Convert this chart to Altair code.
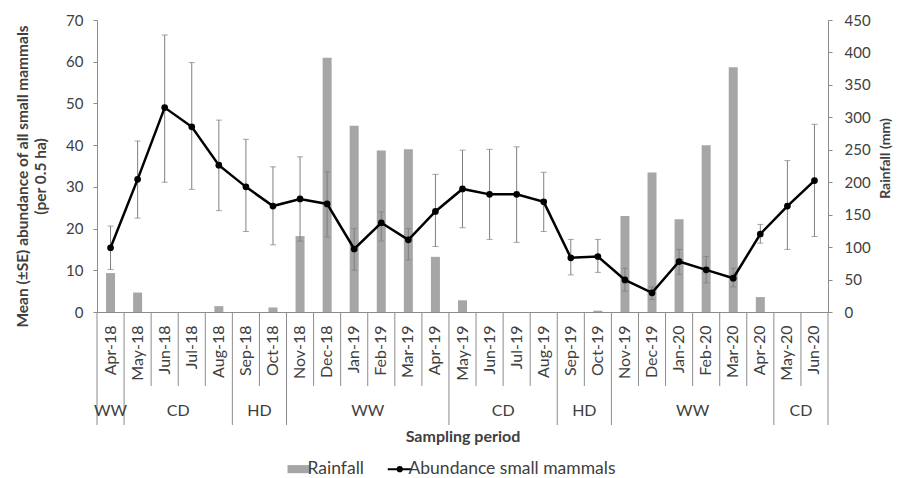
import altair as alt
import pandas as pd

months = ["Apr-18", "May-18", "Jun-18", "Jul-18", "Aug-18", "Sep-18", "Oct-18",
          "Nov-18", "Dec-18", "Jan-19", "Feb-19", "Mar-19", "Apr-19", "May-19",
          "Jun-19", "Jul-19", "Aug-19", "Sep-19", "Oct-19", "Nov-19", "Dec-19",
          "Jan-20", "Feb-20", "Mar-20", "Apr-20", "May-20", "Jun-20"]
seasons = ["WW", "CD", "CD", "CD", "CD", "HD", "HD", "WW", "WW", "WW", "WW", "WW",
           "WW", "CD", "CD", "CD", "CD", "HD", "HD", "WW", "WW", "WW", "WW", "WW",
           "WW", "CD", "CD"]
abundance = [15.4, 31.8, 49.0, 44.4, 35.2, 30.0, 25.4, 27.1, 25.9, 15.1, 21.4, 17.3,
             24.1, 29.5, 28.2, 28.2, 26.4, 13.0, 13.3, 7.7, 4.6, 12.1, 10.1, 8.1,
             18.7, 25.4, 31.5]
se_high = [20.6, 41.0, 66.4, 59.8, 46.0, 41.4, 34.8, 37.2, 33.6, 20.0, 24.0, 20.0,
           33.0, 38.8, 39.0, 39.6, 33.5, 17.4, 17.4, 10.5, 6.0, 15.0, 13.3, 10.5,
           21.0, 36.3, 45.0]
se_low = [10.2, 22.5, 31.1, 29.4, 24.3, 19.3, 16.1, 17.0, 18.0, 10.0, 17.0, 12.5,
          15.7, 20.2, 17.4, 16.7, 19.3, 8.9, 9.5, 5.0, 3.0, 9.0, 7.0, 6.0,
          16.5, 15.0, 18.1]
rainfall = [60, 30, 0, 0, 9, 0, 7, 117, 392, 287, 249, 251, 85, 18, 0, 0, 0, 0, 2,
            148, 215, 143, 257, 377, 23, 0, 0]

season_start = [i == 0 or seasons[i] != seasons[i - 1] for i in range(len(months))]

df = pd.DataFrame({
    "month": months, "season": seasons, "abundance": abundance,
    "hi": se_high, "lo": se_low, "rain": rainfall, "season_start": season_start,
})
df["rain_series"] = "Rainfall"
df["ab_series"] = "Abundance small mammals"

# season label table (centre of each season run)
runs = []
i = 0
while i < len(months):
    j = i
    while j + 1 < len(months) and seasons[j + 1] == seasons[i]:
        j += 1
    n = j - i + 1
    runs.append({"season": seasons[i], "month": months[i + n // 2], "odd": n % 2 == 1})
    i = j + 1
runs_df = pd.DataFrame(runs)

GREY_TXT = "#404040"
AX = "#8c8c8c"
FONT = "Lato"

x_axis = alt.Axis(title="Sampling period", labelAngle=270, labelPadding=13, ticks=False,
                  domainColor=AX, labelFontSize=16, labelColor=GREY_TXT,
                  titleFontSize=16, titleFontWeight="bold", titleColor=GREY_TXT,
                  titleY=116)
xs = alt.Scale(paddingInner=0, paddingOuter=0)


def X(band=0.5):
    return alt.X("month:N", sort=months, scale=xs, axis=x_axis, bandPosition=band)


color_scale = alt.Scale(domain=["Rainfall", "Abundance small mammals"],
                        range=["#a6a6a6", "#000000"])
rect_path = "M-0.75,-0.27H0.75V0.27H-0.75Z"
line_path = "M-0.8,0H0.8M-0.14,0A0.14,0.14,0,1,1,0.14,0A0.14,0.14,0,1,1,-0.14,0Z"
legend = alt.Legend(
    title=None, orient="none", legendX=193, legendY=440, direction="horizontal",
    symbolSize=900, labelFontSize=17.5, labelColor=GREY_TXT, labelOffset=0,
    labelLimit=0, columnPadding=19,
    symbolType=alt.ExprRef(f"datum.value === 'Rainfall' ? '{rect_path}' : '{line_path}'"),
    symbolFillColor=alt.ExprRef("datum.value === 'Rainfall' ? '#a6a6a6' : '#000000'"),
    symbolStrokeColor=alt.ExprRef("datum.value === 'Rainfall' ? '#a6a6a6' : '#000000'"),
    symbolStrokeWidth=alt.ExprRef("datum.value === 'Rainfall' ? 0 : 2"),
    symbolOpacity=1,
)

y_left_axis = alt.Axis(orient="left", values=list(range(0, 71, 10)), grid=False,
                       domainColor=AX, tickColor=AX, tickSize=4, labelFontSize=15,
                       labelColor=GREY_TXT, labelPadding=10,
                       title=["Mean (±SE) abundance of all small mammals", "(per 0.5 ha)"],
                       titleFontSize=15.5, titleFontWeight="bold", titleColor=GREY_TXT,
                       titleAngle=270, titleBaseline="middle", titleAlign="center",
                       titleX=-75, titleY=156, titleLineHeight=18)
y_left_scale = alt.Scale(domain=[0, 70], nice=False)


def YL(field):
    return alt.Y(f"{field}:Q", scale=y_left_scale, axis=y_left_axis)


base = alt.Chart(df)

bars = base.mark_bar(size=9).encode(
    x=X(),
    y=alt.Y("rain:Q", scale=alt.Scale(domain=[0, 450], nice=False),
            axis=alt.Axis(orient="right", values=list(range(0, 451, 50)), grid=False,
                          domainColor=AX, tickColor=AX, tickSize=4, labelFontSize=15,
                          labelColor=GREY_TXT, labelPadding=12, title="Rainfall (mm)",
                          titleFontSize=14, titleFontWeight="bold", titleColor=GREY_TXT,
                          titleAngle=270, titleBaseline="middle", titleX=57, titleY=138)),
    color=alt.Color("rain_series:N", scale=color_scale, legend=legend),
)

err = base.mark_rule(color="#7f7f7f", strokeWidth=1).encode(
    x=X(), y=YL("lo"), y2="hi:Q")
cap_hi = base.mark_tick(color="#7f7f7f", thickness=1, size=6).encode(x=X(), y=YL("hi"))
cap_lo = base.mark_tick(color="#7f7f7f", thickness=1, size=6).encode(x=X(), y=YL("lo"))
line = base.mark_line(strokeWidth=2.5).encode(
    x=X(), y=YL("abundance"),
    color=alt.Color("ab_series:N", scale=color_scale, legend=legend))
pts = base.mark_point(filled=True, size=45, color="#000000", opacity=1).encode(
    x=X(), y=YL("abundance"))

abund = alt.layer(err, cap_hi, cap_lo, line, pts)

sep_short = base.mark_rule(color=AX, strokeWidth=1).encode(
    x=X(0), y=alt.value(292), y2=alt.value(366)).transform_filter("!datum.season_start")
sep_long = base.mark_rule(color=AX, strokeWidth=1).encode(
    x=X(0), y=alt.value(292), y2=alt.value(405)).transform_filter("datum.season_start")
sep_end = base.mark_rule(color=AX, strokeWidth=1).encode(
    x=X(1), y=alt.value(292), y2=alt.value(405)).transform_filter(
    f"datum.month === '{months[-1]}'")

txt_odd = alt.Chart(runs_df).mark_text(fontSize=16, color=GREY_TXT, baseline="middle").encode(
    x=X(0.5), y=alt.value(391), text="season:N").transform_filter("datum.odd")
txt_even = alt.Chart(runs_df).mark_text(fontSize=16, color=GREY_TXT, baseline="middle").encode(
    x=X(0), y=alt.value(391), text="season:N").transform_filter("!datum.odd")

chart = alt.layer(bars, abund, sep_short, sep_long, sep_end, txt_odd, txt_even).resolve_scale(
    y="independent"
).properties(
    width=731, height=292,
    autosize=alt.AutoSizeParams(type="none"),
    padding={"left": 89, "top": 12, "right": 66, "bottom": 166},
).configure(font=FONT).configure_view(stroke=None)

chart.save("out.html", embed_options={"renderer": "svg", "actions": False})
